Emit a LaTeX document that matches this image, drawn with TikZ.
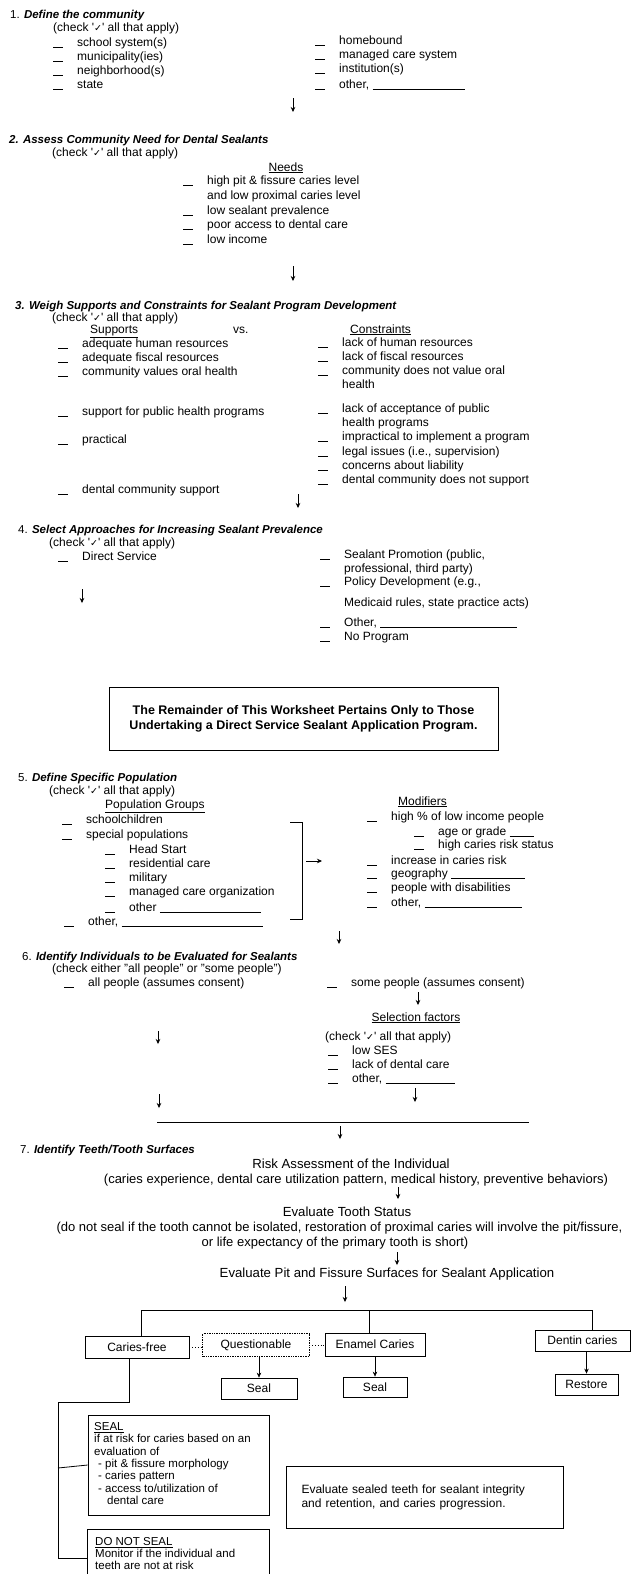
\documentclass[tikz,border=0pt]{standalone}
\usepackage{fontspec}
\setmainfont{Liberation Sans}
\newfontfamily\symf{DejaVu Sans}
\usetikzlibrary{arrows.meta}
\newcommand\chk{{\symf\fontsize{9.5}{10}\selectfont ✓}}
\newcommand\bl{\makebox[24pt][l]{\rule[-1.5pt]{10pt}{0.7pt}}}
\newcommand\ul[1]{\rule[-1.2pt]{#1pt}{0.6pt}}
\newcommand\chkline{(check \textquotesingle\chk\textquotesingle\ all that apply)}
\newcommand\itm[4]{\node[txt] (#1) at (#2,#3) {\bl#4};}
\newcommand\cnt[4]{\node[txt] (#1) at (#2,#3) {#4};}
\newcommand\arrw[4]{\coordinate (#1a) at (#2,#3); \coordinate (#1b) at (#2,#4); \draw[arr] (#1a) -- (#1b);}
\begin{document}
\begin{tikzpicture}[x=1pt,y=-1pt,
  txt/.style={anchor=west,inner sep=0pt,font=\fontsize{12}{14}\selectfont,text height=8.5pt,text depth=2.5pt},
  ttl/.style={txt,font=\fontsize{11.5}{14}\selectfont\bfseries},
  ctr/.style={txt,anchor=center},
  big/.style={ctr,font=\fontsize{13.2}{15}\selectfont},
  mid/.style={ctr,font=\fontsize{13}{15}\selectfont},
  arr/.style={-{Stealth[length=5pt,width=4.5pt]},line width=0.6pt},
  box/.style={draw,line width=0.8pt,inner sep=0pt,font=\fontsize{12}{14}\selectfont},
  dotc/.style={line width=0.8pt,dotted},
  ln/.style={line width=0.8pt}]
\useasboundingbox (0,0) rectangle (631,1574);
% ---------- 1
\node[ttl] (t1) at (10,15) {\mdseries 1. \bfseries\itshape Define the community};
\cnt{c1}{53}{28}{\chkline}
\itm{i1a}{53}{43}{school system(s)}
\itm{i1b}{53}{57}{municipality(ies)}
\itm{i1c}{53}{71}{neighborhood(s)}
\itm{i1d}{53}{85}{state}
\itm{i1e}{315}{41}{homebound}
\itm{i1f}{315}{55}{managed care system}
\itm{i1g}{315}{69}{institution(s)}
\itm{i1h}{315}{85}{other, \ul{92}}
\arrw{a1}{293}{98}{112}
% ---------- 2
\node[ttl] (t2) at (9,140) {\itshape 2. Assess Community Need for Dental Sealants};
\cnt{c2}{52}{153}{\chkline}
\node[ctr] (h2) at (286,168) {\underline{Needs}};
\itm{i2a}{183}{181}{high pit \& fissure caries level}
\cnt{i2b}{207}{196}{and low proximal caries level}
\itm{i2c}{183}{211}{low sealant prevalence}
\itm{i2d}{183}{225}{poor access to dental care}
\itm{i2e}{183}{240}{low income}
\arrw{a2}{293}{266}{281}
% ---------- 3
\node[ttl] (t3) at (15,306) {\itshape 3. Weigh Supports and Constraints for Sealant Program Development};
\cnt{c3}{52}{318}{\chkline}
\cnt{h3a}{90}{330}{\underline{Supports}}
\cnt{h3b}{233}{330}{vs.}
\cnt{h3c}{350}{330}{\underline{Constraints}}
\itm{i3a}{58}{344}{adequate human resources}
\itm{i3b}{58}{358}{adequate fiscal resources}
\itm{i3c}{58}{372}{community values oral health}
\itm{i3d}{58}{412}{support for public health programs}
\itm{i3e}{58}{440}{practical}
\itm{i3f}{58}{490}{dental community support}
\itm{i3g}{318}{343}{lack of human resources}
\itm{i3h}{318}{357}{lack of fiscal resources}
\itm{i3i}{318}{371}{community does not value oral}
\cnt{i3j}{342}{385}{health}
\itm{i3k}{318}{409}{lack of acceptance of public}
\cnt{i3l}{342}{423}{health programs}
\itm{i3m}{318}{437}{impractical to implement a program}
\itm{i3n}{318}{452}{legal issues (i.e., supervision)}
\itm{i3o}{318}{466}{concerns about liability}
\itm{i3p}{318}{480}{dental community does not support}
\arrw{a3}{298}{494}{508}
% ---------- 4
\node[ttl] (t4) at (18,530) {\mdseries 4. \bfseries\itshape Select Approaches for Increasing Sealant Prevalence};
\cnt{c4}{49}{543}{\chkline}
\itm{i4a}{58}{557}{Direct Service}
\itm{i4b}{320}{555}{Sealant Promotion (public,}
\cnt{i4c}{344}{569}{professional, third party)}
\itm{i4d}{320}{582}{Policy Development (e.g.,}
\cnt{i4e}{344}{603}{Medicaid rules, state practice acts)}
\itm{i4f}{320}{623}{Other, \ul{137}}
\itm{i4g}{320}{637}{No Program}
\arrw{a4}{82}{589}{603}
\node[draw,line width=0.8pt,minimum width=389pt,minimum height=63pt,align=center,
  font=\fontsize{12.5}{15}\selectfont\bfseries] (rem) at (303.5,718.5)
  {The Remainder of This Worksheet Pertains Only to Those\\Undertaking a Direct Service Sealant Application Program.};
% ---------- 5
\node[ttl] (t5) at (18,778) {\mdseries 5. \bfseries\itshape Define Specific Population};
\cnt{c5}{49}{791}{\chkline}
\cnt{h5a}{105}{805}{\underline{Population Groups}}
\itm{i5a}{62}{820}{schoolchildren}
\itm{i5b}{62}{835}{special populations}
\itm{i5c}{105}{850}{Head Start}
\itm{i5d}{105}{864}{residential care}
\itm{i5e}{105}{878}{military}
\itm{i5f}{105}{892}{managed care organization}
\itm{i5g}{105}{908}{other \ul{101}}
\itm{i5h}{64}{922}{other, \ul{141}}
\coordinate (b1) at (290,822); \coordinate (b2) at (302,822);
\coordinate (b3) at (302,919); \coordinate (b4) at (290,919);
\draw[ln] (b1) -- (b2) -- (b3) -- (b4);
\coordinate (ra) at (306,861); \coordinate (rb) at (322,861); \draw[arr] (ra) -- (rb);
\cnt{h5b}{398}{802}{\underline{Modifiers}}
\itm{i5i}{367}{817}{high \% of low income people}
\itm{i5j}{414}{832}{age or grade \ul{24}}
\itm{i5k}{414}{845}{high caries risk status}
\itm{i5l}{367}{861}{increase in caries risk}
\itm{i5m}{367}{874}{geography \ul{74}}
\itm{i5n}{367}{888}{people with disabilities}
\itm{i5o}{367}{903}{other, \ul{97}}
\arrw{a5}{339}{931}{944}
% ---------- 6
\node[ttl] (t6) at (22,957) {\mdseries 6. \bfseries\itshape Identify Individuals to be Evaluated for Sealants};
\cnt{c6}{52}{969}{(check either "all people" or "some people")}
\itm{i6a}{64}{983}{all people (assumes consent)}
\itm{i6b}{327}{983}{some people (assumes consent)}
\arrw{a6}{418}{992}{1005}
\node[ctr] (h6) at (416,1018) {\underline{Selection factors}};
\cnt{c6b}{325}{1037}{\chkline}
\itm{i6c}{328}{1051}{low SES}
\itm{i6d}{328}{1065}{lack of dental care}
\itm{i6e}{328}{1079}{other, \ul{69}}
\arrw{a6b}{158}{1031}{1044}
\arrw{a6c}{159}{1094}{1108}
\arrw{a6d}{415}{1088}{1102}
\coordinate (m1) at (157,1122); \coordinate (m2) at (529,1122);
\draw[ln] (m1) -- (m2);
\arrw{a6e}{340}{1126}{1139}
% ---------- 7
\node[ttl] (t7) at (20,1150) {\mdseries 7. \bfseries\itshape Identify Teeth/Tooth Surfaces};
\node[big] (r1) at (351,1165) {Risk Assessment of the Individual};
\node[mid] (r2) at (356,1180) {(caries experience, dental care utilization pattern, medical history, preventive behaviors)};
\arrw{a7a}{398}{1187}{1199}
\node[big] (r3) at (347,1213) {Evaluate Tooth Status};
\node[mid] (r4) at (339.5,1228) {(do not seal if the tooth cannot be isolated, restoration of proximal caries will involve the pit/fissure,};
\node[mid] (r5) at (335,1243) {or life expectancy of the primary tooth is short)};
\arrw{a7b}{397}{1252}{1265}
\node[big] (r6) at (387,1274) {Evaluate Pit and Fissure Surfaces for Sealant Application};
\arrw{a7c}{345}{1286}{1302}
% ---------- tree
\node[box,minimum width=104pt,minimum height=22pt] (cf) at (137,1347) {Caries-free};
\node[box,draw=none,minimum width=106pt,minimum height=22pt] (q) at (256,1345) {Questionable};
\draw[line width=0.7pt,densely dotted] (q.south west) rectangle (q.north east);
\node[box,minimum width=100pt,minimum height=23pt] (ec) at (375,1344.5) {Enamel Caries};
\node[box,minimum width=95pt,minimum height=21pt] (dc) at (582.5,1340.5) {Dentin caries};
\node[box,minimum width=76pt,minimum height=21pt] (s1) at (259,1388.5) {Seal};
\node[box,minimum width=64pt,minimum height=20pt] (s2) at (375,1387) {Seal};
\node[box,minimum width=63pt,minimum height=21pt] (rs) at (586.5,1384.5) {Restore};
\coordinate (tl) at (141,1310); \coordinate (tm) at (369,1310); \coordinate (tr) at (592,1310);
\draw[ln] (tl |- cf.north) -- (tl) -- (tr) -- (tr |- dc.north);
\draw[ln] (tm) -- (tm |- ec.north);
\draw[dotc] (cf.east) -- (cf.east -| q.west);
\draw[dotc] (q.east) -- (q.east -| ec.west);
\draw[arr] (q.south -| s1.north) -- (s1.north);
\draw[arr] (ec.south -| s2.north) -- (s2.north);
\draw[arr] (dc.south -| rs.north) -- (rs.north);
% SEAL box
\node[box,minimum width=181pt,minimum height=100pt] (sb) at (178.5,1465) {};
\node[anchor=north west,inner sep=0pt,align=left,font=\fontsize{11.5}{12.4}\selectfont] (sbt) at (94,1422)
 {\underline{SEAL}\\if at risk for caries based on an\\evaluation of\\\hspace*{4pt}- pit \& fissure morphology\\\hspace*{4pt}- caries pattern\\\hspace*{4pt}- access to/utilization of\\\hspace*{13pt}dental care};
% DO NOT SEAL box (cut at page bottom)
\node[inner sep=0pt,minimum width=181pt,minimum height=44pt] (dns) at (178.5,1552) {};
\draw[ln] (dns.south west) -- (dns.north west) -- (dns.north east) -- (dns.south east);
\node[anchor=north west,inner sep=0pt,align=left,font=\fontsize{11.5}{12.2}\selectfont] (dnt) at (95,1537)
 {\underline{DO NOT SEAL}\\Monitor if the individual and\\teeth are not at risk};
% evaluate box
\node[box,minimum width=277pt,minimum height=62pt,align=left,text width=246pt,inner sep=0pt] (ev) at (424.5,1497)
 {\makebox[246pt][s]{Evaluate sealed teeth for sealant integrity}\\and retention, and caries progression.};
% caries-free branch
\coordinate (d1) at (129,1402); \coordinate (d2) at (58,1402);
\coordinate (d3) at (58,1468); \coordinate (d4) at (58,1558);
\draw[ln] (d1 |- cf.south) -- (d1) -- (d2) -- (d4) -- (d4 -| dns.west);
\draw[ln] (d3) -- (sb.west);
\end{tikzpicture}
\end{document}
